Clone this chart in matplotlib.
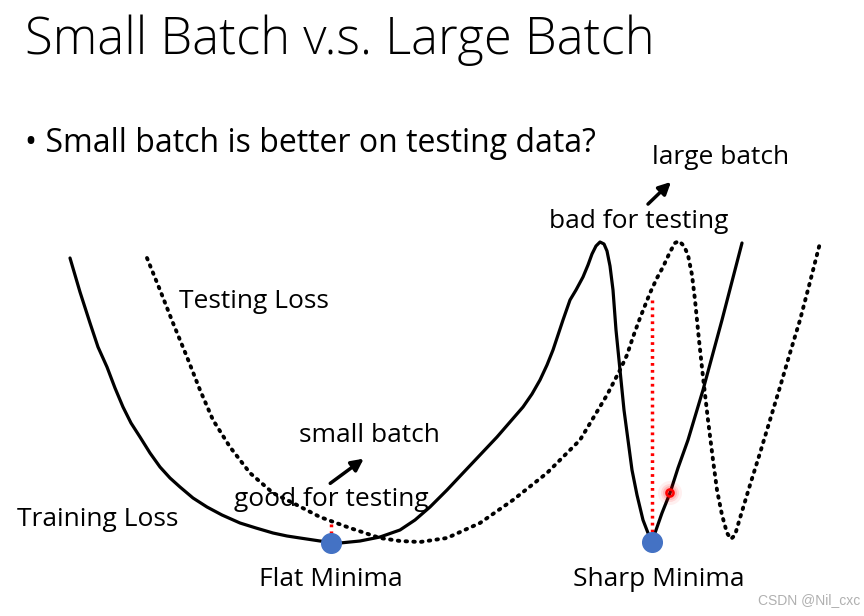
import matplotlib.pyplot as plt
from matplotlib.patches import Circle

# curves, in pixel coords (x right, y down)
train_x = [70, 80, 90, 98, 107, 115, 123, 131, 140, 150, 160, 170, 180, 193, 207, 222,
           240, 256, 273, 287, 300, 320, 340, 360, 380, 400, 415, 430, 447, 463, 480,
           497, 510, 523, 532, 540, 547, 553, 558, 563, 570, 576, 583, 588, 592, 596,
           600, 604, 607, 610, 613, 616, 620, 624, 628, 632, 637, 643, 648, 652, 655,
           662, 670, 678, 688, 703, 722, 742]
train_y = [258, 292, 323, 347, 367, 388, 407, 423, 437, 453, 467, 478, 487, 498, 507, 515,
           523, 528, 533, 536, 538, 541, 543, 541, 537, 530, 520, 507, 490, 473, 455,
           437, 422, 407, 394, 380, 365, 350, 335, 320, 300, 290, 277, 265, 254, 246,
           242, 244, 251, 266, 290, 330, 370, 410, 440, 470, 495, 520, 533, 540, 533,
           513, 493, 468, 440, 390, 320, 243]

test_x = [147, 160, 173, 187, 200, 213, 230, 250, 273, 293, 320, 350, 380, 400, 420, 447,
          480, 513, 547, 580, 607, 620, 627, 633, 640, 650, 657, 663, 670, 675, 679,
          684, 688, 692, 695, 699, 703, 708, 713, 717, 722, 727, 731, 735, 740, 750,
          760, 770, 780, 790, 800, 810, 820]
test_y = [258, 290, 323, 357, 390, 420, 447, 473, 493, 503, 517, 528, 538, 541, 542, 538,
          523, 500, 473, 440, 395, 370, 355, 337, 318, 293, 278, 267, 252, 243, 241,
          246, 255, 275, 300, 340, 377, 420, 460, 490, 515, 533, 539, 535, 518, 485,
          453, 420, 387, 353, 320, 282, 243]

minima_x = [331, 652]
minima_y = [543, 542]

fig = plt.figure(figsize=(8.64, 6.16), dpi=100)
ax = fig.add_axes([0, 0, 1, 1])
ax.set_xlim(0, 864)
ax.set_ylim(616, 0)
ax.axis('off')

ax.plot(train_x, train_y, color='black', lw=2.3, solid_capstyle='round',
        solid_joinstyle='round')
ax.plot(test_x, test_y, color='black', lw=2.8, linestyle=(0, (0.4, 1.6)),
        dash_capstyle='round')

# red gaps between train and test at the minima
ax.plot([331, 331], [524, 537], color='red', lw=2.5, linestyle=(0, (0.8, 1.2)))
ax.plot([652, 652], [300, 534], color='red', lw=2.5, linestyle=(0, (0.8, 1.2)))

ax.scatter(minima_x, minima_y, s=200, color='#4472C4', zorder=5)

# glowing point on the sharp side
for r, a in [(12, 0.06), (9, 0.1), (7, 0.15), (5, 0.2)]:
    ax.add_patch(Circle((670, 493), r, color='red', alpha=a, lw=0, zorder=6))
ax.add_patch(Circle((670, 493), 3.5, fill=False, ec='red', lw=1.8, zorder=7))

arrow = dict(arrowstyle='-|>', color='black', lw=2.5, mutation_scale=18)
ax.annotate('', xy=(366, 457), xytext=(328, 485), arrowprops=arrow)
ax.annotate('', xy=(673, 180), xytext=(646, 206), arrowprops=arrow)

font = 'Open Sans'
ax.text(25, 40, 'Small Batch v.s. Large Batch', fontsize=36.5, family=font,
        fontweight='light', va='center', ha='left')
ax.text(25, 143, '• Small batch is better on testing data?', fontsize=23, family=font,
        va='center', ha='left')
lbl = dict(fontsize=19, family=font, va='center')
ax.text(721, 157, 'large batch', ha='center', **lbl)
ax.text(639, 222, 'bad for testing', ha='center', **lbl)
ax.text(254, 301, 'Testing Loss', ha='center', **lbl)
ax.text(369, 435, 'small batch', ha='center', **lbl)
ax.text(331, 500, 'good for testing', ha='center', **lbl)
ax.text(98, 519, 'Training Loss', ha='center', **lbl)
ax.text(331, 580, 'Flat Minima', ha='center', **lbl)
ax.text(659, 580, 'Sharp Minima', ha='center', **lbl)
ax.text(860, 600, 'CSDN @Nil_cxc', fontsize=10, family='Liberation Sans', color='#b0b0b0',
        ha='right', va='center')

fig.savefig('out.png', dpi=100)
